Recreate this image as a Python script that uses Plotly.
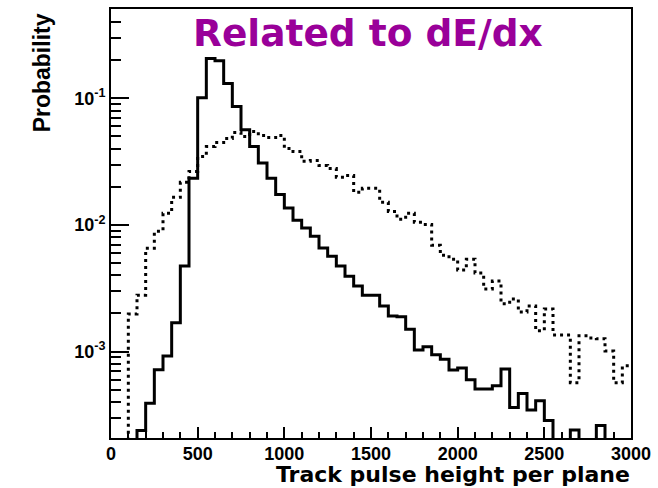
import numpy as np
import plotly.graph_objects as go

# Bin edges of the histograms (pulse height units)
bin_edges = list(range(0, 3001, 50))

# Solid histogram (probability per 50-unit bin), 60 bins
solid_vals = [0, 0, 0, 2.38e-4, 3.90e-4, 7.18e-4, 9.24e-4, 1.69e-3, 4.73e-3, 0.0234,
              0.1013, 0.2065, 0.198, 0.131, 0.0861, 0.0564, 0.0417, 0.0308, 0.0234, 0.0174,
              0.0136, 0.0109, 0.00947, 0.00815, 0.00659, 0.00567, 0.00473, 0.00394, 0.00329, 0.00279,
              0.00279, 0.00229, 0.00191, 0.00188, 0.00150, 0.00103, 0.00109, 0.000942, 0.000871, 0.000714,
              0.000740, 0.000599, 0.000506, 0.000506, 0.000537, 0.000727, 0.000362, 0.000467, 0.000346, 0.000409,
              0.000285, 0, 0, 0.000240, 0, 0, 0.000260, 0, 0, 0]

# Dotted histogram, 60 bins
dotted_vals = [0, 0, 0.00198, 0.00279, 0.00656, 0.00892, 0.01236, 0.01652, 0.0217, 0.0265,
               0.0348, 0.0417, 0.0448, 0.0482, 0.0537, 0.0499, 0.0547, 0.0508, 0.0491, 0.0508,
               0.0402, 0.0380, 0.0318, 0.0323, 0.0295, 0.0279, 0.0238, 0.0246, 0.0181, 0.0195,
               0.0195, 0.0151, 0.0128, 0.0111, 0.0124, 0.0105, 0.0101, 0.00692, 0.00577, 0.00537,
               0.00440, 0.00537, 0.00417, 0.00312, 0.00360, 0.00238, 0.00260, 0.00205, 0.00229, 0.00146,
               0.00217, 0.00135, 0.00135, 0.000567, 0.00133, 0.00128, 0.00126, 0.00101, 0.000567, 0.000771]

x_ticks = [0, 500, 1000, 1500, 2000, 2500, 3000]
x_tick_text = ["0", "500", "1000", "1500", "2000", "2500", "3000"]
y_ticks = [1e-3, 1e-2, 1e-1]
y_tick_text = ["10<sup>-3</sup>", "10<sup>-2</sup>", "10<sup>-1</sup>"]

title_text = "Related to dE/dx"
x_title = "Track pulse height per plane"
y_title = "Probability"

FLOOR = 1e-6  # empty bins drawn below the visible range (at the frame)


def step_y(vals):
    v = [max(a, FLOOR) for a in vals]
    return v + [v[-1]]


fig = go.Figure()
fig.add_trace(go.Scatter(x=bin_edges, y=step_y(dotted_vals), mode="lines",
                         line=dict(shape="hv", color="black", width=3, dash="3px,4px"),
                         showlegend=False, hoverinfo="skip"))
fig.add_trace(go.Scatter(x=bin_edges, y=step_y(solid_vals), mode="lines",
                         line=dict(shape="hv", color="black", width=3),
                         showlegend=False, hoverinfo="skip"))

minor_x = [v for v in range(100, 3000, 100) if v % 500 != 0]
minor_y = [m * 10.0 ** e for e in (-4, -3, -2, -1) for m in range(2, 10)]

tick_font = dict(family="Liberation Sans, Arial, sans-serif", size=18, color="black", weight="bold")

fig.update_xaxes(range=[0, 3000], tickmode="array", tickvals=x_ticks, ticktext=x_tick_text,
                 ticks="inside", ticklen=11, tickwidth=2, tickcolor="black",
                 showline=True, linewidth=2, linecolor="black", mirror=True,
                 showgrid=False, zeroline=False, tickfont=tick_font, ticklabelstandoff=-2,
                 minor=dict(tickmode="array", tickvals=minor_x, ticks="inside", ticklen=6,
                            tickwidth=2, tickcolor="black", showgrid=False))
fig.update_yaxes(type="log", range=[-3.683, -0.294], tickmode="array", tickvals=y_ticks,
                 ticktext=y_tick_text, ticks="inside", ticklen=18, tickwidth=2, tickcolor="black",
                 showline=True, linewidth=2, linecolor="black", mirror=True,
                 showgrid=False, zeroline=False, tickfont=tick_font,
                 minor=dict(tickmode="array", tickvals=minor_y, ticks="inside", ticklen=10,
                            tickwidth=2, tickcolor="black", showgrid=False))

fig.add_annotation(text=title_text, xref="paper", yref="paper", x=0.494, y=0.944,
                   xanchor="center", yanchor="middle", showarrow=False,
                   font=dict(family="DejaVu Sans", size=37.5, color="#990099", weight="bold"))
fig.add_annotation(text=x_title, xref="paper", yref="paper", x=1.002, y=-0.086,
                   xanchor="right", yanchor="middle", showarrow=False,
                   font=dict(family="DejaVu Sans", size=22, color="black", weight="bold"))
fig.add_annotation(text=y_title, xref="paper", yref="paper", x=-0.131, y=0.852,
                   xanchor="center", yanchor="middle", showarrow=False, textangle=-90,
                   font=dict(family="Liberation Sans, Arial", size=23, color="black", weight="bold"))

fig.update_layout(width=658, height=488, margin=dict(l=111, r=23, t=7, b=50),
                  paper_bgcolor="white", plot_bgcolor="white", showlegend=False)

fig.write_html("out.html")
